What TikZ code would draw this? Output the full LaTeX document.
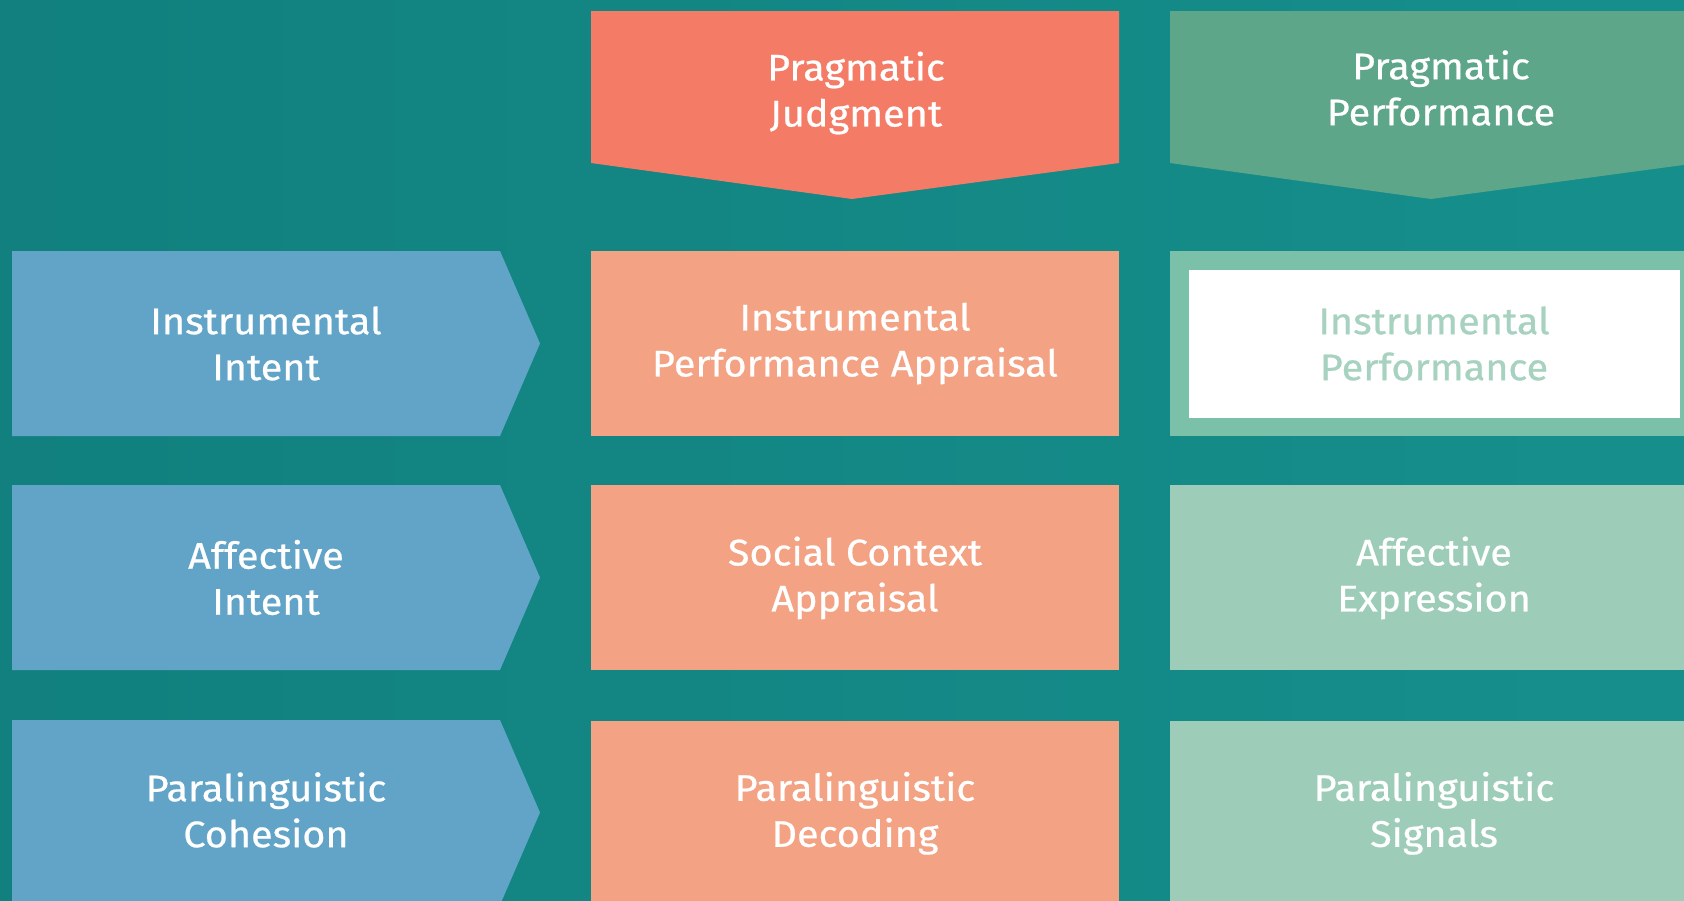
\documentclass[tikz,border=0pt]{standalone}
\usepackage{fontspec}
\setmainfont{Fira Sans}[FakeBold=0.6,FakeStretch=1.07]
\usetikzlibrary{positioning}
\definecolor{tealdark}{HTML}{11807E}
\definecolor{teallight}{HTML}{168F8C}
\definecolor{intentblue}{HTML}{62A4C7}
\definecolor{judgehead}{HTML}{F47C67}
\definecolor{judgecell}{HTML}{F3A283}
\definecolor{perfhead}{HTML}{5EA68A}
\definecolor{perfframe}{HTML}{7BC0A8}
\definecolor{perfcell}{HTML}{9DCDB9}

\begin{document}
\begin{tikzpicture}[x=1pt,y=-1pt,
    lbl/.style={text=white,align=center,font=\fontsize{37}{46}\selectfont},
    cell/.style={lbl,minimum width=528pt,minimum height=185pt,inner sep=0pt}]
  \useasboundingbox (0,0) rectangle (1684,900);
  \clip (0,0) rectangle (1684,900);
  \shade[left color=tealdark,right color=teallight] (0,0) rectangle (1684,900);

  % column heads
  \fill[judgehead] (591,11) -- (1119,11) -- (1119,163) -- (852,199) -- (591,163) -- cycle;
  \node[lbl] (judg) at (856,93) {Pragmatic\\Judgment};
  \fill[perfhead] (1170,11) -- (1698,11) -- (1698,163) -- (1431,199) -- (1170,163) -- cycle;
  \node[lbl] (perf) at (1441,88) {Pragmatic\\Performance};

  % intents
  \fill[intentblue] (12,251) -- ++(488,0) -- ++(40,92.5) -- ++(-40,92.5) -- ++(-488,0) -- cycle;
  \node[lbl] (instint) at (266,343.5) {Instrumental\\Intent};
  \fill[intentblue] (12,485) -- ++(488,0) -- ++(40,92.5) -- ++(-40,92.5) -- ++(-488,0) -- cycle;
  \node[lbl] (affint) at (266,577.5) {Affective\\Intent};
  \fill[intentblue] (12,720) -- ++(488,0) -- ++(40,92.5) -- ++(-40,92.5) -- ++(-488,0) -- cycle;
  \node[lbl] (paraint) at (266,810) {Paralinguistic\\Cohesion};

  % judgment
  \node[cell,fill=judgecell] (instappr) at (855,343.5) {Instrumental\\Performance Appraisal};
  \node[cell,fill=judgecell,below=49pt of instappr] (socappr) {Social Context\\Appraisal};
  \node[cell,fill=judgecell,below=50pt of socappr] (paradec) {Paralinguistic\\Decoding};

  % performance
  \node[cell,fill=perfframe] (instperf) at (1434,343.5) {};
  \node[lbl,text=perfcell!90!white,fill=white,minimum width=491pt,minimum height=148pt,inner sep=0pt]
    (instperftxt) at (instperf) {Instrumental\\Performance};
  \node[cell,fill=perfcell,below=49pt of instperf] (affexp) {Affective\\Expression};
  \node[cell,fill=perfcell,below=50pt of affexp] (parasig) {Paralinguistic\\Signals};
\end{tikzpicture}
\end{document}
